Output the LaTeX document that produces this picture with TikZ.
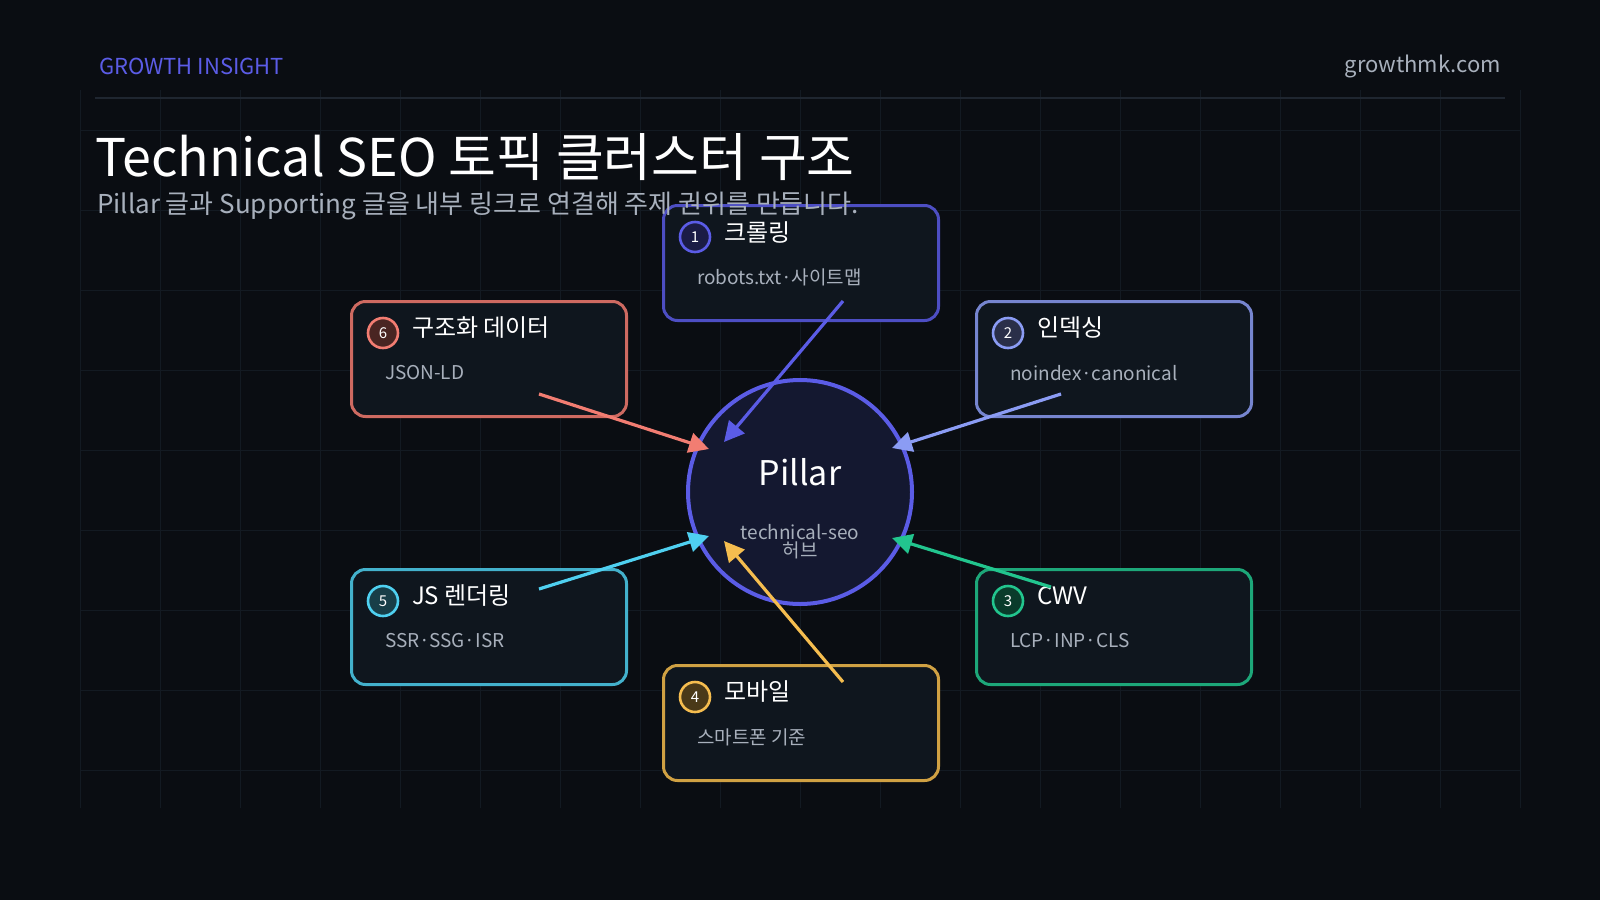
\documentclass[tikz,border=0pt]{standalone}
\usepackage{fontspec}
\setmainfont{Noto Sans CJK KR}
\usetikzlibrary{calc,arrows.meta}
\definecolor{bgc}{HTML}{0A0D12}
\definecolor{boxc}{HTML}{0F161E}
\definecolor{gridc}{HTML}{131A22}
\definecolor{rulec}{HTML}{1F2630}
\definecolor{pillc}{HTML}{141830}
\definecolor{cA}{HTML}{5B5CE6}
\definecolor{cB}{HTML}{8B9CF4}
\definecolor{cC}{HTML}{22C58E}
\definecolor{cD}{HTML}{F5BD4F}
\definecolor{cE}{HTML}{4FD0F0}
\definecolor{cF}{HTML}{F27D72}
\definecolor{subc}{HTML}{A8B0BC}
\tikzset{
  card/.style={draw=#1!85!black, line width=1.5pt, fill=boxc, rounded corners=7pt, minimum width=137.5pt, minimum height=57.5pt, anchor=north west},
  badge/.style={circle, draw=#1, line width=1.3pt, fill=#1!30!black, minimum size=15pt, inner sep=0pt, text=white, font=\fontsize{7.5}{8}\selectfont},
  ctitle/.style={anchor=west, text=white, font=\fontsize{12}{13}\selectfont},
  csub/.style={anchor=west, text=subc, font=\fontsize{9.5}{10}\selectfont},
  link/.style={draw=#1, line width=1.6pt, -{Triangle[length=10pt,width=10pt]}}
}
\begin{document}
\begin{tikzpicture}[x=0.5pt,y=-0.5pt]
		\fill[bgc] (0,0) rectangle (1600,900);
		\useasboundingbox (0,0) rectangle (1600,900);
		\foreach \x in {80,160,...,1520} \draw[gridc, line width=0.4pt] (\x,90) -- (\x,808);
		\foreach \y in {130,210,...,808} \draw[gridc, line width=0.4pt] (80,\y) -- (1520,\y);
		\node[anchor=west, text=cA, font=\fontsize{11}{12}\selectfont] (brand) at (92,66) {GROWTH INSIGHT};
		\node[anchor=east, text=subc, font=\fontsize{11}{12}\selectfont] (site) at (1508,66) {growthmk.com};
		\draw[rulec, line width=1.2pt] (95,98) -- (1505,98);
		\node[anchor=west, text=white, font=\fontsize{26}{28}\selectfont] (title) at (88,157) {Technical SEO 토픽 클러스터 구조};
		% pillar
		\node[circle, draw=cA, line width=2pt, fill=pillc, minimum size=112pt] (pillar) at (800,492) {};
		\node[text=white, font=\fontsize{17}{18}\selectfont] (ptitle) at (800,472) {Pillar};
		\node[text=subc, font=\fontsize{9.5}{9}\selectfont, align=center] (psub) at (800,542) {technical-seo\\허브};
		% cards
		\node[card=cA] (b1) at (662,204) {};
		\node[card=cB] (b2) at (975,300) {};
		\node[card=cC] (b3) at (975,568) {};
		\node[card=cD] (b4) at (662,664) {};
		\node[card=cE] (b5) at (350,568) {};
		\node[card=cF] (b6) at (350,300) {};
		\foreach \b/\c/\n/\t/\s in {b1/cA/1/크롤링/robots.txt·사이트맵, b2/cB/2/인덱싱/noindex·canonical, b3/cC/3/CWV/LCP·INP·CLS, b4/cD/4/모바일/스마트폰 기준, b5/cE/5/JS 렌더링/SSR·SSG·ISR, b6/cF/6/구조화 데이터/JSON-LD}{
			\node[badge=\c] (\b n) at ($(\b.north west)+(33,33)$) {\n};
			\node[ctitle] (\b t) at ($(\b.north west)+(55,28)$) {\t};
			\node[csub] (\b s) at ($(\b.north west)+(28,73)$) {\s};
		}
		\node[anchor=west, text=subc, font=\fontsize{13}{14}\selectfont] (subtitle) at (90,206) {Pillar 글과 Supporting 글을 내부 링크로 연결해 주제 권위를 만듭니다.};
		% links
		\coordinate (s1) at (843,301);
		\coordinate (s2) at (1061,394);
		\coordinate (s3) at (1051,587);
		\coordinate (s4) at (843,682);
		\coordinate (s5) at (539,589);
		\coordinate (s6) at (539,394);
		\draw[link=cA] (s1) -- ($(pillar.center)+(-76,-50)$);
		\draw[link=cB] (s2) -- ($(pillar.center)+(92,-44)$);
		\draw[link=cC] (s3) -- ($(pillar.center)+(92,46)$);
		\draw[link=cD] (s4) -- ($(pillar.center)+(-76,49)$);
		\draw[link=cE] (s5) -- ($(pillar.center)+(-91,44)$);
		\draw[link=cF] (s6) -- ($(pillar.center)+(-91,-43)$);
	\end{tikzpicture}
\end{document}
